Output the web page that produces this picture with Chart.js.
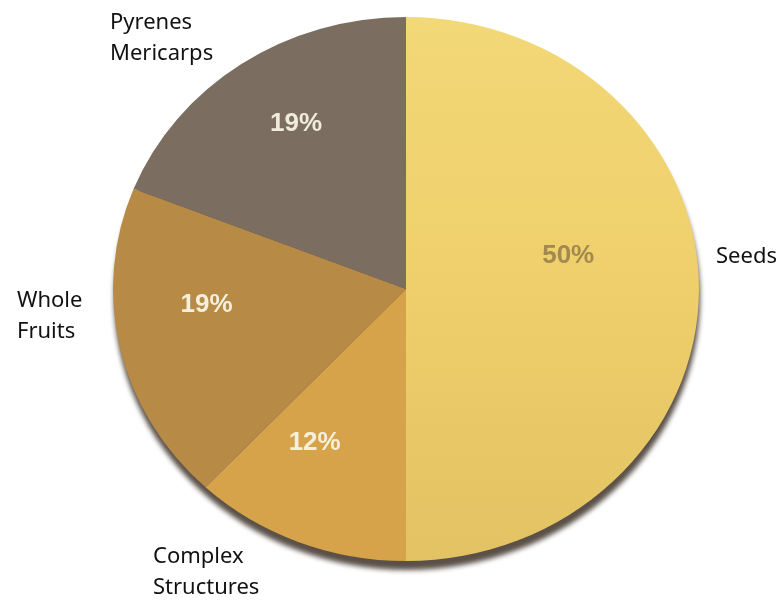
<!DOCTYPE html>
<html>
<head>
<meta charset="utf-8">
<script src="https://cdn.jsdelivr.net/npm/chart.js@4.4.0/dist/chart.umd.min.js"></script>
<style>
  html, body { margin: 0; padding: 0; background: #fff; }
  canvas { display: block; }
</style>
</head>
<body>
<canvas id="pie" width="784" height="600"></canvas>
<script>
// ---- data ----
const categories = ['Seeds', 'Complex Structures', 'Whole Fruits', 'Pyrenes Mericarps'];
const shares = [50, 12, 19, 19];
const labelLines = [['Seeds'], ['Complex', 'Structures'], ['Whole', 'Fruits'], ['Pyrenes', 'Mericarps']];

// ---- styling ----
const sliceColors = ['#efd16c', '#d7a34a', '#b78a45', '#7b6e60'];
const pctColors = ['#a3894f', '#f6efdc', '#f6efdc', '#f1ebdd'];
const stretchX = 1.077;              // reference pie is slightly wider than tall
const pctNudge = [[-37, -33], [-18, -18], [-5, -25], [2, -12]];
// outside label anchors (left x, first baseline y)
const labelAnchors = [[716, 263], [153, 563], [17, 307], [110, 29]];

const stretchPlugin = {
  id: 'stretch',
  beforeDatasetsDraw(chart) {
    const arc = chart.getDatasetMeta(0).data[0];
    if (!arc) return;
    const { ctx } = chart;
    const { x, y, outerRadius } = arc;
    ctx.save();
    ctx.translate(x, y);
    ctx.scale(stretchX, 1);
    ctx.translate(-x, -y);
    // soft rim shadow under the pie
    ctx.save();
    ctx.filter = 'blur(2.5px)';
    ctx.fillStyle = '#5a5048';
    ctx.beginPath();
    ctx.arc(x + 1, y + 9, outerRadius, 0, Math.PI * 2);
    ctx.fill();
    ctx.restore();
  },
  afterDatasetsDraw(chart) {
    chart.ctx.restore();
  },
};

const labelPlugin = {
  id: 'pieLabels',
  afterDraw(chart) {
    const { ctx } = chart;
    const arcs = chart.getDatasetMeta(0).data;
    ctx.save();

    // percentages inside slices
    ctx.font = 'bold 26px "Liberation Sans", Arial, sans-serif';
    ctx.textAlign = 'center';
    ctx.textBaseline = 'middle';
    arcs.forEach((arc, i) => {
      const mid = (arc.startAngle + arc.endAngle) / 2;
      const r = arc.outerRadius * 0.68;
      const px = arc.x + Math.cos(mid) * r * stretchX + pctNudge[i][0];
      const py = arc.y + Math.sin(mid) * r + pctNudge[i][1];
      ctx.fillStyle = pctColors[i];
      ctx.fillText(shares[i] + '%', px, py);
    });

    // category names outside
    ctx.font = '22px "Noto Sans", sans-serif';
    ctx.textAlign = 'left';
    ctx.textBaseline = 'alphabetic';
    ctx.fillStyle = '#111';
    labelLines.forEach((lines, i) => {
      const [lx, ly] = labelAnchors[i];
      lines.forEach((t, j) => ctx.fillText(t, lx, ly + j * 31));
    });

    ctx.restore();
  },
};

new Chart(document.getElementById('pie'), {
  type: 'pie',
  data: {
    labels: categories,
    datasets: [{
      data: shares,
      backgroundColor: (c) => {
        if (c.dataIndex !== 0 || !c.chart.chartArea) return sliceColors[c.dataIndex];
        const a = c.chart.chartArea;
        const g = c.chart.ctx.createLinearGradient(0, a.top, 0, a.bottom);
        g.addColorStop(0, '#f3d877');
        g.addColorStop(0.5, '#eecf6b');
        g.addColorStop(1, '#e2c262');
        return g;
      },
      borderWidth: 0,
      clip: false,
    }],
  },
  options: {
    responsive: false,
    animation: false,
    layout: { padding: { left: 134, right: 106, top: 17, bottom: 39 } },
    plugins: {
      legend: { display: false },
      tooltip: { enabled: false },
    },
  },
  plugins: [stretchPlugin, labelPlugin],
});
</script>
</body>
</html>
